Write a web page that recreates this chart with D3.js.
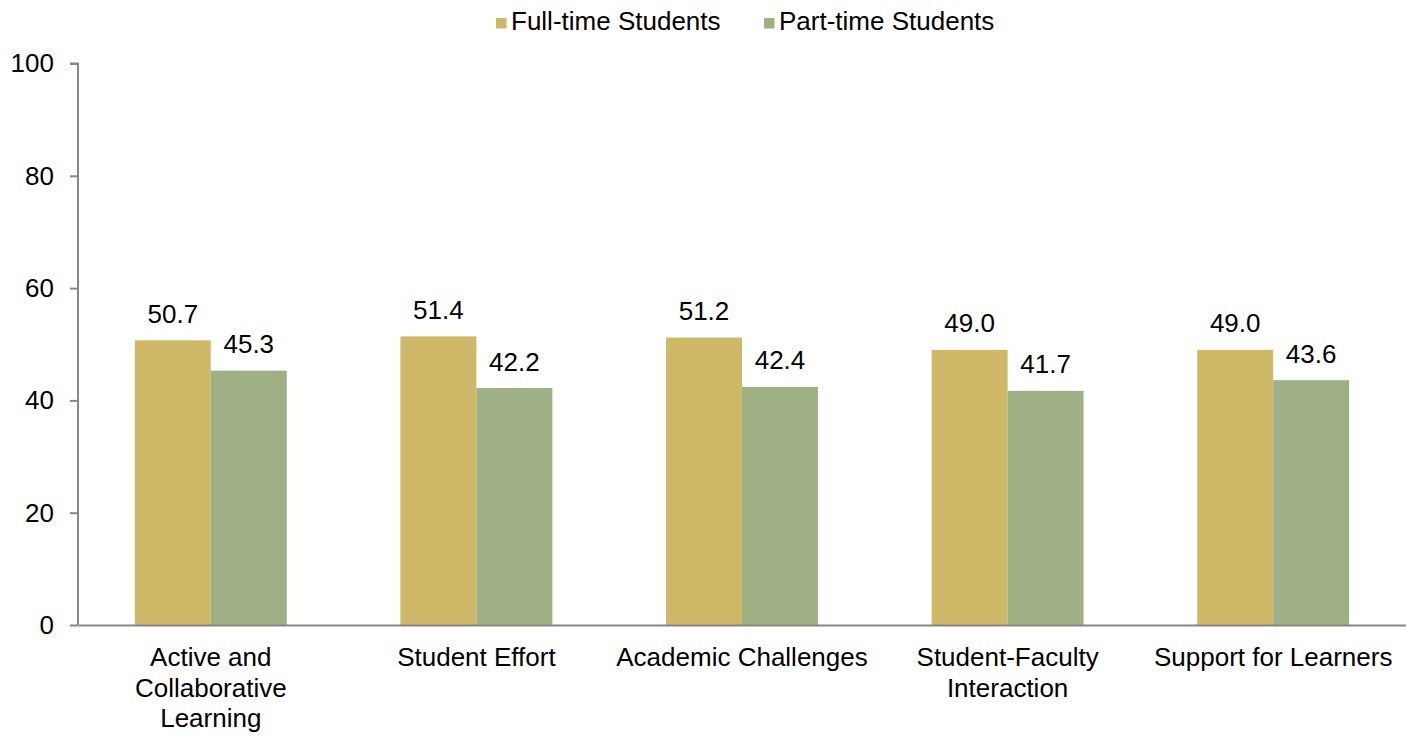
<!DOCTYPE html>
<html>
<head>
<meta charset="utf-8">
<script src="https://cdn.jsdelivr.net/npm/d3@7"></script>
<style>
  html, body { margin: 0; padding: 0; background: #fff; }
  svg { display: block; font-family: "Liberation Sans", Arial, sans-serif; }
</style>
</head>
<body>
<svg id="chart" width="1406" height="736"></svg>
<script>
const categories = [
  ["Active and", "Collaborative", "Learning"],
  ["Student Effort"],
  ["Academic Challenges"],
  ["Student-Faculty", "Interaction"],
  ["Support for Learners"]
];
const seriesNames = ["Full-time Students", "Part-time Students"];
const fullTime = [50.7, 51.4, 51.2, 49.0, 49.0];
const partTime = [45.3, 42.2, 42.4, 41.7, 43.6];
const yTicks = [0, 20, 40, 60, 80, 100];
const colors = ["#CFB968", "#9EB084"];

const FS = 26;
const svg = d3.select("#chart");
const margin = { left: 78, right: 0, top: 63.5, bottom: 111 };
const W = 1406, H = 736;
const x0 = d3.scaleBand().domain(d3.range(categories.length)).range([margin.left, W - margin.right]).paddingInner(0).paddingOuter(0);
const innerPad = 0.214;
const x1 = d3.scaleBand().domain([0, 1]).range([x0.bandwidth() * innerPad, x0.bandwidth() * (1 - innerPad)]);
const y = d3.scaleLinear().domain([0, 100]).range([H - margin.bottom, margin.top]);

const data = categories.map((c, i) => ({ i, values: [fullTime[i], partTime[i]] }));

// bars
const g = svg.append("g");
const groups = g.selectAll("g.cat").data(data).join("g")
  .attr("transform", d => `translate(${x0(d.i)},0)`);
groups.selectAll("rect").data(d => d.values.map((v, s) => ({ v, s }))).join("rect")
  .attr("x", d => x1(d.s))
  .attr("width", x1.bandwidth())
  .attr("y", d => y(d.v))
  .attr("height", d => y(0) - y(d.v))
  .attr("fill", d => colors[d.s]);
groups.selectAll("text.val").data(d => d.values.map((v, s) => ({ v, s }))).join("text")
  .attr("class", "val")
  .attr("x", d => x1(d.s) + x1.bandwidth() / 2)
  .attr("y", d => y(d.v) - 17.5)
  .attr("text-anchor", "middle")
  .attr("font-size", FS)
  .attr("fill", "#000")
  .text(d => d.v.toFixed(1));

// y axis
const yAxis = d3.axisLeft(y).tickValues(yTicks).tickSize(8).tickPadding(16).tickFormat(d3.format("d"));
const ya = svg.append("g").attr("transform", `translate(${margin.left},0)`).call(yAxis);
ya.select(".domain").attr("stroke", "#868686").attr("stroke-width", 2).attr("d", `M-8,${y(100)}H0V${y(0)}`);
ya.selectAll(".tick line").attr("stroke", "#868686").attr("stroke-width", 2);
ya.selectAll(".tick text").attr("font-size", FS).attr("fill", "#000").attr("font-family", "Liberation Sans, Arial, sans-serif");

// x axis
const xa = svg.append("g").attr("transform", `translate(0,${y(0)})`)
  .call(d3.axisBottom(x0).tickSize(0).tickFormat(""));
xa.select(".domain").attr("stroke", "#868686").attr("stroke-width", 2);
const labels = svg.append("g");
categories.forEach((lines, i) => {
  const t = labels.append("text")
    .attr("x", x0(i) + x0.bandwidth() / 2)
    .attr("y", y(0) + 41)
    .attr("text-anchor", "middle")
    .attr("font-size", FS)
    .attr("fill", "#000");
  lines.forEach((ln, k) => {
    t.append("tspan").attr("x", x0(i) + x0.bandwidth() / 2).attr("dy", k === 0 ? 0 : 30.5).text(ln);
  });
});

// legend
const legendX = [496, 764];
const leg = svg.append("g");
seriesNames.forEach((name, s) => {
  leg.append("rect").attr("x", legendX[s]).attr("y", 18).attr("width", 10.5).attr("height", 10.5).attr("fill", colors[s]);
  leg.append("text").attr("x", legendX[s] + 15).attr("y", 30).attr("font-size", FS).attr("fill", "#000").text(name);
});
</script>
</body>
</html>
